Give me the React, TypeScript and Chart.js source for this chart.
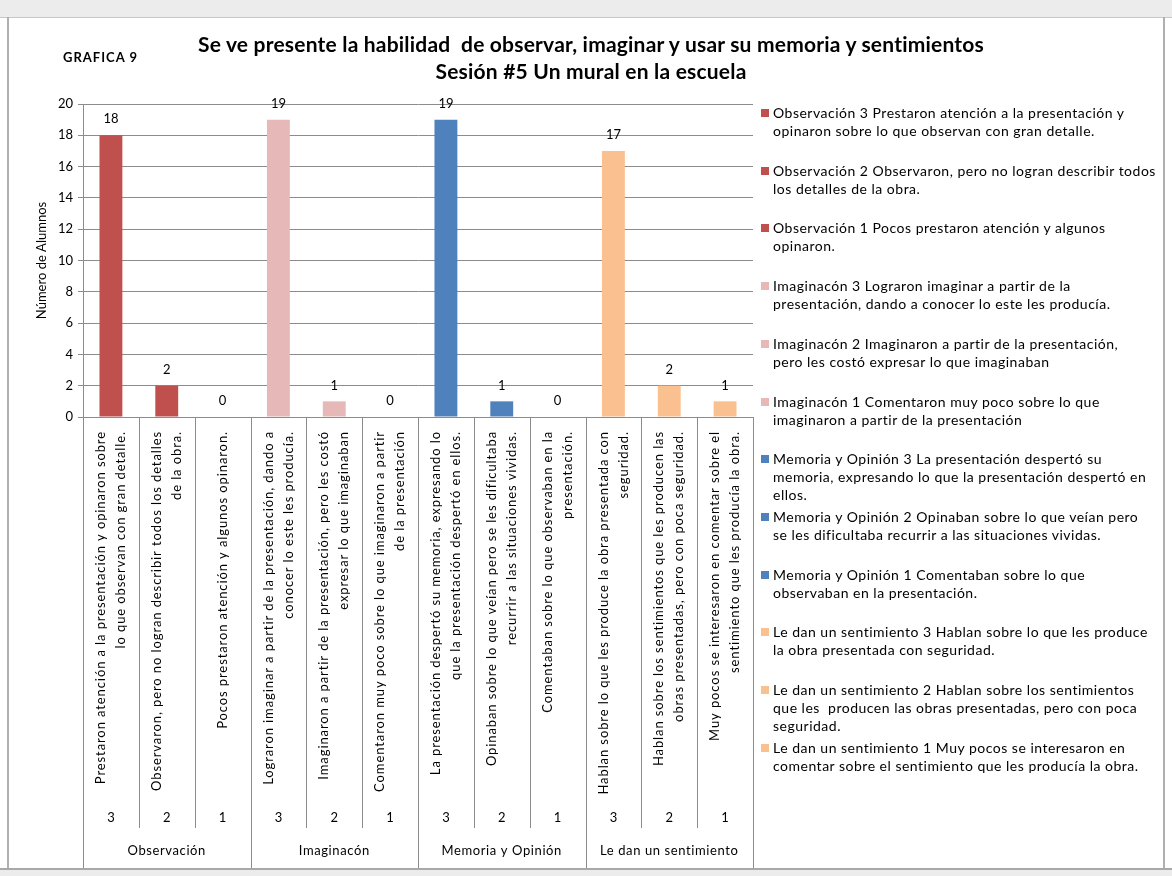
import React, { useEffect, useRef } from "react";
import { Chart, registerables } from "chart.js";

Chart.register(...registerables);

const TITLE_LINES = [
  "Se ve presente la habilidad  de observar, imaginar y usar su memoria y sentimientos",
  "Sesión #5 Un mural en la escuela",
];
const SIDE_LABEL = "GRAFICA 9";
const Y_TITLE = "Número de Alumnos";

const GROUPS = ["Observación", "Imaginacón", "Memoria y Opinión", "Le dan un sentimiento"];
const LEVELS = ["3", "2", "1"];
const CATEGORY_LABELS: string[][] = [
  ["Prestaron atención a la presentación y opinaron sobre", "lo que observan con gran detalle."],
  ["Observaron, pero no logran describir todos los detalles", "de la obra."],
  ["Pocos prestaron atención y algunos opinaron."],
  ["Lograron imaginar a partir de la presentación, dando a", "conocer lo este les producía."],
  ["Imaginaron a partir de la presentación, pero les costó", "expresar lo que imaginaban"],
  ["Comentaron muy poco sobre lo que imaginaron a partir", "de la presentación"],
  ["La presentación despertó su memoria, expresando lo", "que la presentación despertó en ellos."],
  ["Opinaban sobre lo que veían pero se les dificultaba", "recurrir a las situaciones vividas."],
  ["Comentaban sobre lo que observaban en la", "presentación."],
  ["Hablan sobre lo que les produce la obra presentada con", "seguridad."],
  ["Hablan sobre los sentimientos que les producen las", "obras presentadas, pero con poca seguridad."],
  ["Muy pocos se interesaron en comentar sobre el", "sentimiento que les producía la obra."],
];
const VALUES = [18, 2, 0, 19, 1, 0, 19, 1, 0, 17, 2, 1];
const GROUP_COLORS = ["#C0504D", "#E6B9B8", "#4F81BD", "#FAC090"];
const LEGEND_LINES: string[][] = [
  ["Observación 3 Prestaron atención a la presentación y", "opinaron sobre lo que observan con gran detalle."],
  ["Observación 2 Observaron, pero no logran describir todos", "los detalles de la obra."],
  ["Observación 1 Pocos prestaron atención y algunos", "opinaron."],
  ["Imaginacón 3 Lograron imaginar a partir de la", "presentación, dando a conocer lo este les producía."],
  ["Imaginacón 2 Imaginaron a partir de la presentación,", "pero les costó expresar lo que imaginaban"],
  ["Imaginacón 1 Comentaron muy poco sobre lo que", "imaginaron a partir de la presentación"],
  ["Memoria y Opinión 3 La presentación despertó su", "memoria, expresando lo que la presentación despertó en", "ellos."],
  ["Memoria y Opinión 2 Opinaban sobre lo que veían pero", "se les dificultaba recurrir a las situaciones vividas."],
  ["Memoria y Opinión 1 Comentaban sobre lo que", "observaban en la presentación."],
  ["Le dan un sentimiento 3 Hablan sobre lo que les produce", "la obra presentada con seguridad."],
  ["Le dan un sentimiento 2 Hablan sobre los sentimientos", "que les  producen las obras presentadas, pero con poca", "seguridad."],
  ["Le dan un sentimiento 1 Muy pocos se interesaron en", "comentar sobre el sentimiento que les producía la obra."],
];
const Y_MIN = 0;
const Y_MAX = 20;
const Y_STEP = 2;

const FONT = "Lato, 'Open Sans', sans-serif";
const PER_GROUP = LEVELS.length;
const barColors = VALUES.map((_, i) => GROUP_COLORS[Math.floor(i / PER_GROUP)]);

const dataLabelPlugin = {
  id: "dataLabels",
  afterDatasetsDraw(chart: any) {
    const ctx = chart.ctx;
    const meta = chart.getDatasetMeta(0);
    ctx.save();
    ctx.font = `13px ${FONT}`;
    ctx.fillStyle = "#000";
    ctx.textAlign = "center";
    ctx.textBaseline = "middle";
    meta.data.forEach((el: any, i: number) => {
      ctx.fillText(String(VALUES[i]), el.x, el.y - 16);
    });
    ctx.restore();
  },
};

const multiAxisPlugin = {
  id: "multiAxis",
  afterDraw(chart: any) {
    const ctx = chart.ctx;
    const xs = chart.scales.x;
    const area = chart.chartArea;
    const n = VALUES.length;
    const w = (area.right - area.left) / n;
    const y0 = area.bottom;
    ctx.save();
    ctx.strokeStyle = "#8c8c8c";
    ctx.lineWidth = 1;
    for (let i = 0; i <= n; i++) {
      const x = Math.round(area.left + i * w) + 0.5;
      const isGroup = i % PER_GROUP === 0;
      ctx.beginPath();
      ctx.moveTo(x, y0);
      ctx.lineTo(x, isGroup ? y0 + 451 : y0 + 411);
      ctx.stroke();
    }
    ctx.fillStyle = "#000";
    ctx.font = `13px ${FONT}`;
    CATEGORY_LABELS.forEach((lines, i) => {
      const cx = xs.getPixelForValue(i);
      const k = lines.length;
      lines.forEach((line, j) => {
        const x = cx + (j - (k - 1) / 2) * 20;
        ctx.save();
        ctx.letterSpacing = "0.9px";
        ctx.translate(x, y0 + 14);
        ctx.rotate(-Math.PI / 2);
        ctx.textAlign = "right";
        ctx.textBaseline = "middle";
        ctx.fillText(line, 0, 0);
        ctx.restore();
      });
      ctx.textAlign = "center";
      ctx.textBaseline = "middle";
      ctx.fillText(LEVELS[i % PER_GROUP], cx, y0 + 401);
    });
    ctx.letterSpacing = "0.6px";
    GROUPS.forEach((g, gi) => {
      const cx = area.left + (gi * PER_GROUP + PER_GROUP / 2) * w;
      ctx.textAlign = "center";
      ctx.textBaseline = "middle";
      ctx.fillText(g, cx, y0 + 434);
    });
    ctx.restore();
  },
};

export default function App() {
  const ref = useRef<HTMLCanvasElement | null>(null);
  useEffect(() => {
    if (!ref.current) return;
    const chart = new Chart(ref.current, {
      type: "bar",
      data: {
        labels: CATEGORY_LABELS.map((l) => l.join(" ")),
        datasets: [
          {
            data: VALUES,
            backgroundColor: barColors,
            borderWidth: 0,
            barPercentage: 0.41,
            categoryPercentage: 1,
          },
        ],
      },
      options: {
        animation: false,
        responsive: false,
        maintainAspectRatio: false,
        layout: { padding: { left: 31, top: 104, right: 419, bottom: 7 } },
        plugins: { legend: { display: false }, tooltip: { enabled: false }, title: { display: false } },
        scales: {
          x: {
            grid: { display: false },
            border: { display: true, color: "#8c8c8c" },
            ticks: { display: false },
            afterFit: (s: any) => {
              s.height = 452;
            },
          },
          y: {
            min: Y_MIN,
            max: Y_MAX,
            ticks: { stepSize: Y_STEP, color: "#000", font: { family: FONT, size: 13 }, padding: 5 },
            grid: { color: "#8c8c8c", tickLength: 5, drawTicks: true },
            border: { display: true, color: "#8c8c8c" },
            title: { display: true, text: Y_TITLE, color: "#000", font: { family: FONT, size: 13 }, padding: { top: 3, bottom: 4 } },
            afterFit: (s: any) => {
              s.width = 52;
            },
          },
        },
      },
      plugins: [dataLabelPlugin, multiAxisPlugin],
    });
    return () => chart.destroy();
  }, []);

  return (
    <div style={{ position: "absolute", left: 0, top: 0, width: 1172, height: 876, background: "#fff", overflow: "hidden", fontFamily: FONT }}>
      <div style={{ position: "absolute", left: 0, top: 0, width: 1172, height: 17, background: "#ececec", borderBottom: "1px solid #c8c8c8" }} />
      <div style={{ position: "absolute", left: 0, top: 868, width: 1172, height: 8, background: "#ececec", borderTop: "2px solid #a8a8a8" }} />
      <div style={{ position: "absolute", left: 7, top: 17, width: 1158, height: 851, borderLeft: "2px solid #b0b0b0", borderRight: "2px solid #b0b0b0", boxSizing: "border-box" }} />
      <canvas ref={ref} width={1172} height={876} style={{ position: "absolute", left: 0, top: 0, width: 1172, height: 876 }} />
      <div style={{ position: "absolute", left: 0, width: 1182, top: 30, textAlign: "center", fontWeight: 700, fontSize: 21, letterSpacing: "0.2px", lineHeight: "27px", color: "#000" }}>
        {TITLE_LINES.map((t, i) => (
          <div key={i} style={{ whiteSpace: "pre" }}>{t}</div>
        ))}
      </div>
      <div style={{ position: "absolute", left: 63, top: 49, fontWeight: 700, fontSize: 13, letterSpacing: "1px", color: "#000" }}>{SIDE_LABEL}</div>
      {LEGEND_LINES.map((lines, i) => (
        <div key={i} style={{ position: "absolute", left: 761, top: Math.round(104 + i * 57.7), fontSize: 14, letterSpacing: "0.5px", lineHeight: "18px", color: "#000", whiteSpace: "pre" }}>
          <span style={{ position: "absolute", left: 0, top: 5, width: 8, height: 8, background: GROUP_COLORS[Math.floor(i / PER_GROUP)] }} />
          <div style={{ marginLeft: 12 }}>
            {lines.map((l, j) => (
              <div key={j}>{l}</div>
            ))}
          </div>
        </div>
      ))}
    </div>
  );
}
